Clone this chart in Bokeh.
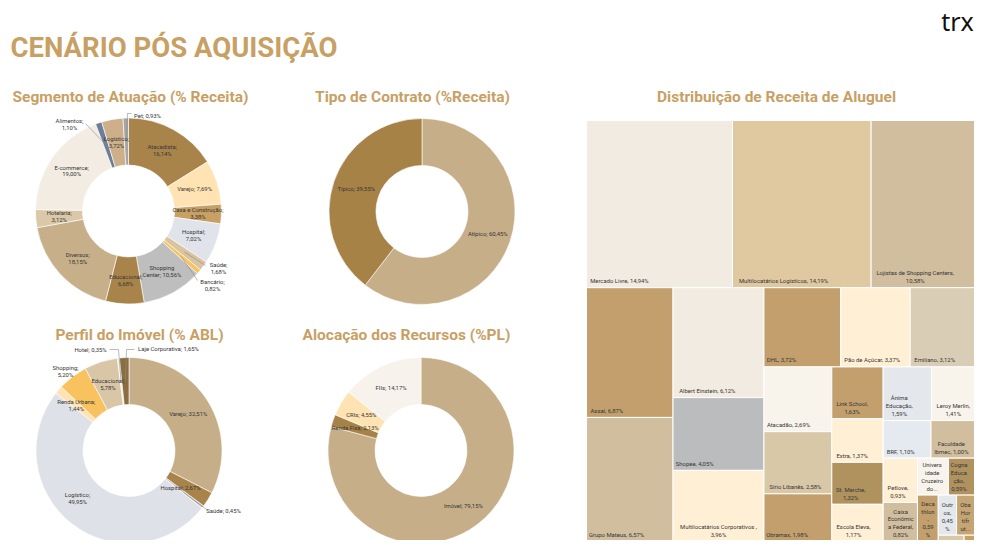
import math
from bokeh.plotting import figure
from bokeh.models import Range1d
from bokeh.core.properties import value
from bokeh.embed import file_html
from bokeh.resources import INLINE

# ---------------- data ----------------
seg_names = ["Atacadista", "Varejo", "Casa e Construção", "Hospital", "Saúde", "Bancário",
             "Shopping Center", "Educacional", "Diversos", "Hotelaria", "E-commerce",
             "Alimentos", "Logístico", "Pet"]
seg_values = [16.14, 7.69, 3.38, 7.02, 1.68, 0.82, 10.56, 6.68, 18.15, 3.12, 19.00, 1.10, 3.72, 0.93]
seg_colors = ["#A9844A", "#FFE3B2", "#C8A064", "#E1E3EA", "#D9C3A0", "#F7C35F", "#BEBEBE",
              "#A9844A", "#C7AF89", "#DAC8A8", "#F2ECE3", "#6E7E98", "#CDB08A", "#A5A5A5"]
seg_wrap = [True, False, True, True, True, True, False, True, True, True, True, True, True, False]

ctr_names = ["Atípico", "Típico"]
ctr_values = [60.45, 39.55]
ctr_colors = ["#C5AE88", "#A78247"]

imv_names = ["Varejo", "Hospital", "Saúde", "Logístico", "Renda Urbana", "Shopping",
             "Educacional", "Hotel", "Laje Corporativa"]
imv_values = [32.51, 2.67, 0.45, 49.95, 1.44, 5.20, 5.78, 0.35, 1.65]
imv_colors = ["#C5AE88", "#A9844A", "#BFBFBF", "#DFE1E8", "#FFE3B2", "#F8C35F",
              "#D9C6A6", "#F2ECE3", "#8A6E40"]
imv_wrap = [False, False, False, True, True, True, True, False, False]

pl_names = ["Imóvel", "Renda Fixa", "CRIs", "FIIs"]
pl_values = [79.15, 2.13, 4.55, 14.17]
pl_colors = ["#C5AE88", "#A78247", "#FFE3B2", "#F7F3EC"]

tm_names = ["Mercado Livre", "Multilocatários Logísticos", "Lojistas de Shopping Centers",
            "Assaí", "Grupo Mateus", "Albert Einstein", "Shopee", "Multilocatários Corporativos",
            "DHL", "Pão de Açúcar", "Emiliano", "Atacadão", "Sírio Libanês", "Obramax",
            "Link School", "Extra", "St. Marche", "Escola Eleva", "Ânima Educação",
            "Leroy Merlin", "BRF", "Faculdade Ibmec", "Petlove", "Caixa Econômica Federal",
            "Universidade Cruzeiro do Sul", "Cogna Educação", "Decathlon", "Outros",
            "Oba Hortifruti", "Cobasi", "Demais"]
tm_values = [14.94, 14.19, 10.58, 6.87, 6.57, 6.12, 4.05, 3.96, 3.72, 3.37, 3.12, 2.69, 2.58,
             1.98, 1.63, 1.37, 1.32, 1.17, 1.59, 1.41, 1.10, 1.00, 0.93, 0.82, 0.70, 0.59,
             0.59, 0.45, 0.44, 0.10, 0.04]
tm_labels = ["Mercado Livre, 14,94%", "Multilocatários Logísticos, 14,19%",
             "Lojistas de Shopping Centers,\n10,58%", "Assaí, 6,87%", "Grupo Mateus, 6,57%",
             "Albert Einstein, 6,12%", "Shopee, 4,05%", "Multilocatários Corporativos ,\n3,96%",
             "DHL, 3,72%", "Pão de Açúcar, 3,37%", "Emiliano, 3,12%", "Atacadão, 2,69%",
             "Sírio Libanês, 2,58%", "Obramax, 1,98%", "Link School,\n1,63%", "Extra, 1,37%",
             "St. Marche,\n1,32%", "Escola Eleva,\n1,17%", "Ânima\nEducação,\n1,59%",
             "Leroy Merlin,\n1,41%", "BRF, 1,10%", "Faculdade\nIbmec, 1,00%", "Petlove,\n0,93%",
             "Caixa\nEconômic\na Federal,\n0,82%", "Univers\nidade\nCruzeiro\ndo...",
             "Cogna\nEduca\nção,\n0,59%", "Deca\nthlon\n,\n0,59\n%", "Outr\nos,\n0,45\n%",
             "Oba\nHor\ntifr\nut...", "", ""]
tm_colors = ["#F2EBE1", "#E0C8A0", "#D0BE9F", "#C29F6C", "#D0BE9F", "#F2EBE1", "#BBBCBE",
             "#FFEFD5", "#C29F6C", "#FFEFD5", "#DACDB5", "#F8F4EC", "#D9C8A8", "#C29F6C",
             "#C29F6C", "#FFEFD5", "#B0925F", "#FFEFD5", "#E4E7EC", "#F8F4EC", "#E4EAF0",
             "#D0BE9F", "#FFEFD5", "#D0BE9F", "#F8F4EC", "#B0925F", "#C29F6C", "#E4E7EC",
             "#C6A574", "#D9C8A8", "#C9A060"]
# strip structure of the treemap: (number of tiles, 'h' = row on top, 'v' = column at left)
tm_strips = [(3, "h"), (2, "v"), (3, "v"), (3, "h"), (3, "v"), (4, "v"), (2, "h"), (2, "h"),
             (2, "v"), (2, "h"), (1, "v"), (2, "h"), (2, "h")]

# ---------------- style ----------------
GOLD = "#C8A064"
TXT = "#363636"
FONT = "Roboto"
LBL = "5.9px"

W, H = 981, 540
p = figure(width=W, height=H, x_range=Range1d(0, W), y_range=Range1d(H, 0),
           output_backend="svg", toolbar_location=None, x_axis_type=None, y_axis_type=None,
           min_border=0, outline_line_color=None, background_fill_color="white",
           border_fill_color="white")
p.grid.visible = False


def pct(v):
    return f"{v:.2f}".replace(".", ",") + "%"


def donut(cx, cy, names, vals, colors, wraps, overrides, leaders, r_in=46, r_out=93):
    total = sum(vals)
    starts, ends, lx, ly, texts, mids = [], [], [], [], [], []
    c = 0.0
    for i, v in enumerate(vals):
        a0 = math.pi / 2 - 2 * math.pi * c / total
        c += v
        a1 = math.pi / 2 - 2 * math.pi * c / total
        starts.append(a0)
        ends.append(a1)
        am = (a0 + a1) / 2
        rm = (r_in + r_out) / 2
        mx, my = cx + rm * math.cos(am), cy - rm * math.sin(am)
        mids.append((mx, my))
        nm = names[i].replace("Shopping Center", "Shopping\nCenter")
        texts.append(f"{nm};{chr(10) if wraps[i] else ' '}{pct(v)}")
        if names[i] in overrides:
            ox, oy = overrides[names[i]]
            lx.append(ox)
            ly.append(oy)
        else:
            lx.append(mx)
            ly.append(my)
    p.annular_wedge(x=cx, y=cy, inner_radius=r_in, outer_radius=r_out, start_angle=starts,
                    end_angle=ends, direction="clock", fill_color=colors, line_color="white",
                    line_width=0.6)
    xs, ys = [], []
    for nm, pts in leaders.items():
        i = names.index(nm)
        xs.append([mids[i][0]] + [q[0] for q in pts])
        ys.append([mids[i][1]] + [q[1] for q in pts])
    if xs:
        p.multi_line(xs=xs, ys=ys, line_color="#8C8C8C", line_width=0.6)
    p.text(x=lx, y=ly, text=texts, text_font=value(FONT), text_font_size=LBL,
           text_color=TXT, text_align="center", text_baseline="middle", text_line_height=1.15)


donut(128, 210.5, seg_names, seg_values, seg_colors, seg_wrap,
      {"Pet": (147, 115), "Alimentos": (69, 124), "Saúde": (218, 268), "Bancário": (212, 285)},
      {"Pet": [(127, 113), (131, 113)], "Alimentos": [(85, 123)], "Saúde": [(205, 265)],
       "Bancário": [(197, 280)]})
donut(421.5, 211, ctr_names, ctr_values, ctr_colors, [False, False], {}, {})
donut(128.5, 450, imv_names, imv_values, imv_colors, imv_wrap,
      {"Hotel": (90, 349), "Laje Corporativa": (168, 348), "Shopping": (65, 371),
       "Saúde": (223, 510), "Logístico": (77, 498), "Hospital": (180, 487)},
      {"Hotel": [(118, 349), (109, 349)], "Laje Corporativa": [(126, 349), (134, 349)],
       "Saúde": [(206, 509)]})
donut(420.5, 450, pl_names, pl_values, pl_colors, [False] * 4, {}, {})


# ---------------- treemap ----------------
def strip_layout(vals, strips, x0, y0, x1, y1):
    rects, i = [], 0
    for count, orient in strips:
        grp = vals[i:i + count]
        s, rem = sum(grp), sum(vals[i:])
        if orient == "h":
            h = (y1 - y0) * s / rem
            cx = x0
            for v in grp:
                w = (x1 - x0) * v / s
                rects.append((cx, y0, cx + w, y0 + h))
                cx += w
            y0 += h
        else:
            w = (x1 - x0) * s / rem
            cy = y0
            for v in grp:
                hh = (y1 - y0) * v / s
                rects.append((x0, cy, x0 + w, cy + hh))
                cy += hh
            x0 += w
        i += count
    return rects


rects = strip_layout(tm_values, tm_strips, 586, 120, 974, 541)
p.quad(left=[r[0] for r in rects], right=[r[2] for r in rects], top=[r[1] for r in rects],
       bottom=[r[3] for r in rects], fill_color=tm_colors, line_color="white", line_width=1)

tx, ty, tt = [], [], []
for r, lab in zip(rects, tm_labels):
    if not lab:
        continue
    w = r[2] - r[0]
    est = max(len(s) for s in lab.split("\n")) * 2.8
    if est > w - 6:
        x = r[0] + w / 2
    else:
        x = r[0] + 3.5 + est / 2
    tx.append(x)
    ty.append(r[3] - 3.5)
    tt.append(lab)
p.text(x=tx, y=ty, text=tt, text_font=value(FONT), text_font_size=LBL, text_color=TXT,
       text_align="center", text_baseline="bottom", text_line_height=1.3)

# ---------------- titles ----------------
p.text(x=[10], y=[47], text=["CENÁRIO PÓS AQUISIÇÃO"], text_font=value(FONT),
       text_font_style="bold", text_font_size="27.5px", text_color=GOLD,
       text_align="left", text_baseline="alphabetic")
p.text(x=[130, 412, 776, 139, 406], y=[96, 96, 96, 334, 334],
       text=["Segmento de Atuação (% Receita)", "Tipo de Contrato (%Receita)",
             "Distribuição de Receita de Aluguel", "Perfil do Imóvel (% ABL)",
             "Alocação dos Recursos (%PL)"],
       text_font=value(FONT), text_font_style="bold", text_font_size="15.5px", text_color=GOLD,
       text_align="center", text_baseline="alphabetic")
p.text(x=[957], y=[20], text=["trx"], text_font=value("Noto Sans"), text_font_size="25px",
       text_color="#111111", text_align="center", text_baseline="alphabetic")

open("out.html", "w").write(file_html(p, INLINE))
